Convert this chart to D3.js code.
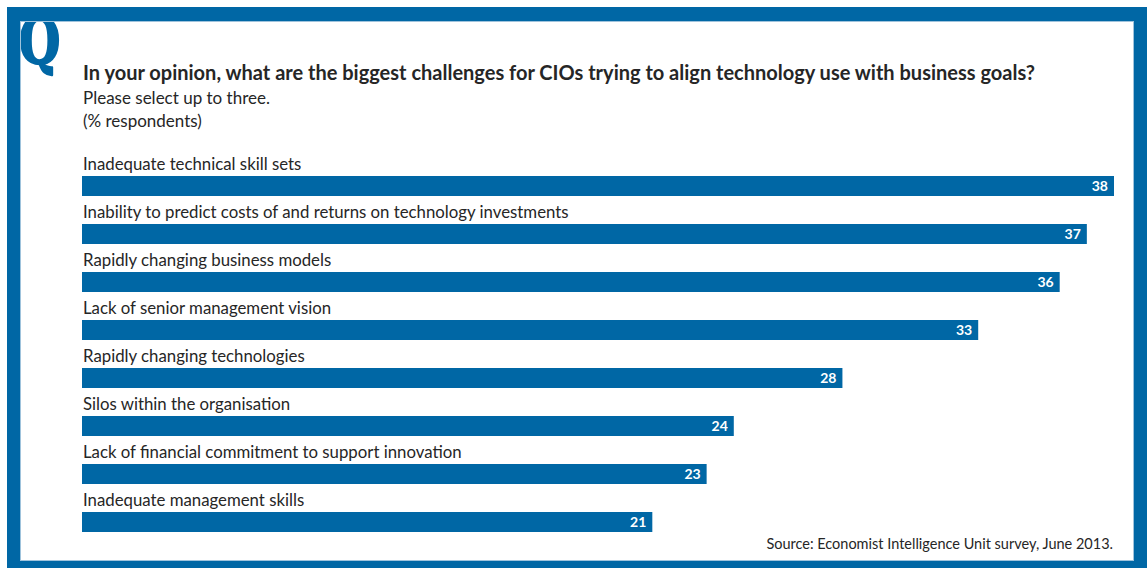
<!DOCTYPE html>
<html>
<head>
<meta charset="utf-8">
<script src="https://cdn.jsdelivr.net/npm/d3@7"></script>
<style>
  html, body { margin: 0; padding: 0; background: #fff; }
  svg { display: block; }
</style>
</head>
<body>
<svg id="chart" width="1147" height="568"></svg>
<script>
// Survey answers, % respondents
const categories = [
  "Inadequate technical skill sets",
  "Inability to predict costs of and returns on technology investments",
  "Rapidly changing business models",
  "Lack of senior management vision",
  "Rapidly changing technologies",
  "Silos within the organisation",
  "Lack of financial commitment to support innovation",
  "Inadequate management skills"
];
const values = [38, 37, 36, 33, 28, 24, 23, 21];

const titleText = "In your opinion, what are the biggest challenges for CIOs trying to align technology use with business goals?";
const subtitleLines = ["Please select up to three.", "(% respondents)"];
const sourceText = "Source: Economist Intelligence Unit survey, June 2013.";

const BLUE = "#0067a5";
const INK = "#262626";
const FONT = "Lato, 'Open Sans', sans-serif";

const W = 1147, H = 568;
const svg = d3.select("#chart");
svg.append("rect").attr("width", W).attr("height", H).attr("fill", "#fff");

// Big heavy condensed "Q" mark, its top tucked under the frame
svg.append("text")
  .attr("transform", "translate(19,64) scale(0.74,1)")
  .attr("font-family", "'DejaVu Serif', serif")
  .attr("font-weight", "bold")
  .attr("font-size", 64)
  .attr("fill", BLUE)
  .attr("stroke", BLUE)
  .attr("stroke-width", 2.4)
  .attr("stroke-linejoin", "round")
  .text("Q");

// Frame: blue border around the white panel
const frame = { x: 7, y: 7, inX: 20, inY: 21, inR: 1134, inB: 561 };
svg.append("path")
  .attr("fill", BLUE)
  .attr("fill-rule", "evenodd")
  .attr("d",
    `M${frame.x},${frame.y}H${W}V${H}H${frame.x}Z` +
    `M${frame.inX},${frame.inY}V${frame.inB}H${frame.inR}V${frame.inY}Z`);
svg.append("rect")
  .attr("x", frame.inX + 0.5).attr("y", frame.inY + 0.5)
  .attr("width", frame.inR - frame.inX - 1).attr("height", frame.inB - frame.inY - 1)
  .attr("fill", "none").attr("stroke", "#9fc3dc").attr("stroke-width", 1);

// Headings
svg.append("text")
  .attr("x", 83).attr("y", 80)
  .attr("font-family", FONT).attr("font-weight", "bold").attr("font-size", 20)
  .attr("fill", INK)
  .text(titleText);
svg.selectAll("text.sub").data(subtitleLines).join("text")
  .attr("class", "sub")
  .attr("x", 83).attr("y", (d, i) => 104 + i * 23)
  .attr("font-family", FONT).attr("font-size", 17)
  .attr("fill", INK)
  .text(d => d);

// Scales
const x = d3.scaleLinear().domain([0, 38]).range([82, 1114]);
const y = d3.scaleBand().domain(categories).range([152, 536]).paddingInner(0).paddingOuter(0);
const barH = 20;
const barOffset = 24; // bar sits below its label

const rows = svg.selectAll("g.row").data(categories.map((c, i) => ({ c, v: values[i] })))
  .join("g").attr("class", "row")
  .attr("transform", d => `translate(0,${y(d.c)})`);

rows.append("text")
  .attr("x", 83).attr("y", 18)
  .attr("font-family", FONT).attr("font-size", 16.8)
  .attr("fill", INK)
  .text(d => d.c);

rows.append("rect")
  .attr("x", x(0)).attr("y", barOffset)
  .attr("width", d => x(d.v) - x(0)).attr("height", barH)
  .attr("fill", BLUE);

rows.append("text")
  .attr("x", d => x(d.v) - 6).attr("y", barOffset + 15)
  .attr("text-anchor", "end")
  .attr("font-family", FONT).attr("font-weight", "bold").attr("font-size", 14)
  .attr("fill", "#fff")
  .text(d => d.v);

// Source note
svg.append("text")
  .attr("x", 1113).attr("y", 549)
  .attr("text-anchor", "end")
  .attr("font-family", FONT).attr("font-size", 14.5)
  .attr("fill", INK)
  .text(sourceText);
</script>
</body>
</html>
